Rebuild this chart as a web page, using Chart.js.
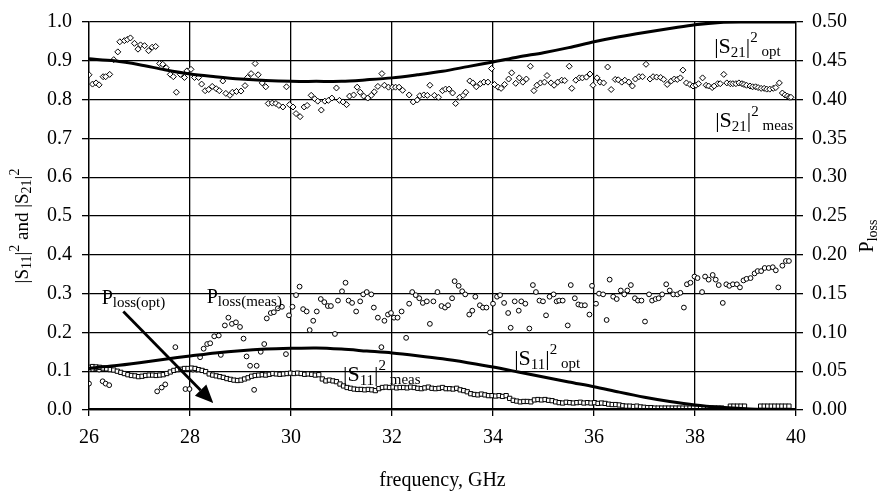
<!DOCTYPE html>
<html>
<head>
<meta charset="utf-8">
<script src="https://cdn.jsdelivr.net/npm/chart.js@4.4.0/dist/chart.umd.min.js"></script>
<style>
  html, body { margin: 0; padding: 0; background: #fff; }
</style>
</head>
<body>
<canvas id="chart" width="880" height="494"></canvas>
<script>
// [frequency GHz, value] pairs
const s21Opt = [[26,0.905],[26.5,0.9],[27,0.89],[27.5,0.877],[28,0.866],[28.5,0.859],[29,0.853],[29.5,0.849],[30,0.847],[30.5,0.847],[31,0.847],[31.5,0.851],[32,0.856],[32.5,0.864],[33,0.873],[33.5,0.885],[34,0.897],[34.5,0.91],[35,0.921],[35.5,0.934],[36,0.949],[36.5,0.962],[37,0.973],[37.5,0.983],[38,0.993],[38.5,0.999],[39,1.0],[39.5,1.0],[40,1.0]];

const s11Opt = [[26,0.108],[26.5,0.114],[27,0.122],[27.5,0.131],[28,0.139],[28.5,0.147],[29,0.153],[29.5,0.157],[30,0.159],[30.5,0.16],[31,0.157],[31.5,0.152],[32,0.147],[32.5,0.14],[33,0.132],[33.5,0.122],[34,0.111],[34.5,0.098],[35,0.085],[35.5,0.072],[36,0.06],[36.5,0.046],[37,0.033],[37.5,0.022],[38,0.013],[38.5,0.007],[39,0.003],[39.5,0.001],[40,0]];

const pLossOpt = [[26,0],[40,0]];

const s21Meas = [[26.0,0.864],[26.07,0.84],[26.14,0.843],[26.2,0.838],[26.28,0.859],[26.33,0.859],[26.41,0.865],[26.49,0.903],[26.57,0.923],[26.61,0.949],[26.7,0.952],[26.76,0.955],[26.82,0.959],[26.9,0.945],[26.97,0.93],[27.02,0.941],[27.1,0.939],[27.18,0.926],[27.25,0.935],[27.32,0.937],[27.4,0.893],[27.46,0.891],[27.53,0.882],[27.61,0.865],[27.67,0.859],[27.73,0.819],[27.81,0.865],[27.89,0.857],[27.94,0.874],[28.02,0.878],[28.09,0.857],[28.17,0.857],[28.23,0.84],[28.3,0.823],[28.37,0.826],[28.44,0.834],[28.52,0.828],[28.58,0.823],[28.65,0.848],[28.71,0.816],[28.79,0.811],[28.84,0.819],[28.92,0.821],[29.01,0.822],[29.09,0.836],[29.14,0.857],[29.21,0.867],[29.29,0.893],[29.35,0.864],[29.43,0.843],[29.5,0.833],[29.55,0.79],[29.63,0.791],[29.7,0.79],[29.76,0.785],[29.84,0.781],[29.91,0.833],[29.97,0.787],[30.04,0.781],[30.1,0.764],[30.18,0.756],[30.26,0.781],[30.32,0.785],[30.4,0.811],[30.47,0.802],[30.53,0.796],[30.6,0.773],[30.67,0.796],[30.74,0.798],[30.81,0.804],[30.9,0.83],[30.96,0.798],[31.03,0.794],[31.1,0.787],[31.16,0.809],[31.24,0.812],[31.31,0.832],[31.37,0.819],[31.44,0.809],[31.52,0.804],[31.59,0.811],[31.65,0.82],[31.72,0.834],[31.8,0.867],[31.85,0.837],[31.93,0.832],[32.01,0.832],[32.07,0.832],[32.14,0.832],[32.21,0.824],[32.34,0.812],[32.42,0.794],[32.5,0.799],[32.55,0.81],[32.63,0.812],[32.7,0.811],[32.75,0.837],[32.84,0.811],[32.92,0.806],[33.0,0.823],[33.06,0.827],[33.13,0.827],[33.2,0.817],[33.26,0.79],[33.34,0.806],[33.41,0.811],[33.46,0.819],[33.54,0.848],[33.6,0.843],[33.67,0.833],[33.75,0.841],[33.82,0.845],[33.9,0.845],[33.97,0.88],[34.03,0.839],[34.1,0.832],[34.16,0.829],[34.23,0.839],[34.31,0.853],[34.37,0.869],[34.45,0.842],[34.52,0.856],[34.59,0.845],[34.66,0.853],[34.74,0.886],[34.81,0.823],[34.87,0.837],[34.94,0.843],[35.02,0.845],[35.07,0.862],[35.15,0.843],[35.21,0.837],[35.28,0.845],[35.36,0.85],[35.42,0.849],[35.51,0.886],[35.56,0.829],[35.64,0.85],[35.71,0.856],[35.77,0.856],[35.85,0.858],[35.92,0.866],[35.98,0.837],[36.06,0.856],[36.12,0.845],[36.19,0.843],[36.27,0.884],[36.34,0.826],[36.42,0.852],[36.48,0.851],[36.55,0.845],[36.61,0.85],[36.69,0.845],[36.76,0.835],[36.82,0.853],[36.89,0.859],[36.96,0.859],[37.03,0.891],[37.11,0.853],[37.17,0.859],[37.24,0.858],[37.32,0.857],[37.38,0.852],[37.45,0.839],[37.53,0.848],[37.59,0.853],[37.65,0.852],[37.71,0.856],[37.76,0.876],[37.83,0.843],[37.9,0.839],[37.96,0.835],[38.02,0.837],[38.07,0.841],[38.15,0.856],[38.22,0.837],[38.27,0.835],[38.34,0.831],[38.38,0.835],[38.45,0.841],[38.5,0.841],[38.57,0.865],[38.63,0.843],[38.7,0.841],[38.75,0.841],[38.81,0.841],[38.87,0.843],[38.93,0.841],[38.97,0.839],[39.02,0.837],[39.09,0.835],[39.14,0.833],[39.2,0.833],[39.25,0.831],[39.31,0.829],[39.37,0.829],[39.42,0.827],[39.48,0.827],[39.55,0.829],[39.6,0.831],[39.67,0.843],[39.73,0.817],[39.78,0.812],[39.83,0.809],[39.87,0.806],[39.9,0.806]];

const s11Meas = [[26.0,0.11],[26.07,0.112],[26.14,0.111],[26.21,0.11],[26.28,0.108],[26.35,0.106],[26.42,0.104],[26.49,0.103],[26.56,0.1],[26.63,0.097],[26.7,0.094],[26.77,0.091],[26.84,0.089],[26.91,0.088],[26.98,0.086],[27.05,0.087],[27.12,0.089],[27.19,0.09],[27.26,0.09],[27.33,0.089],[27.4,0.09],[27.47,0.091],[27.54,0.094],[27.61,0.098],[27.68,0.102],[27.75,0.104],[27.82,0.105],[27.89,0.107],[27.96,0.107],[28.03,0.108],[28.1,0.107],[28.17,0.104],[28.24,0.102],[28.31,0.099],[28.38,0.093],[28.45,0.09],[28.52,0.088],[28.59,0.086],[28.66,0.084],[28.73,0.081],[28.8,0.079],[28.87,0.077],[28.94,0.076],[29.01,0.077],[29.08,0.08],[29.15,0.083],[29.22,0.087],[29.29,0.089],[29.36,0.09],[29.43,0.091],[29.5,0.09],[29.57,0.092],[29.64,0.094],[29.71,0.093],[29.78,0.092],[29.85,0.093],[29.92,0.094],[29.99,0.095],[30.06,0.094],[30.13,0.095],[30.2,0.094],[30.27,0.092],[30.34,0.093],[30.41,0.092],[30.48,0.09],[30.55,0.091],[30.62,0.08],[30.69,0.075],[30.76,0.077],[30.83,0.075],[30.9,0.073],[30.97,0.067],[31.04,0.062],[31.11,0.058],[31.18,0.056],[31.25,0.054],[31.32,0.053],[31.39,0.053],[31.46,0.052],[31.53,0.053],[31.6,0.052],[31.67,0.05],[31.74,0.055],[31.81,0.058],[31.88,0.059],[31.95,0.058],[32.02,0.059],[32.09,0.057],[32.16,0.058],[32.23,0.058],[32.3,0.057],[32.37,0.059],[32.44,0.058],[32.51,0.056],[32.58,0.055],[32.65,0.057],[32.72,0.059],[32.79,0.056],[32.86,0.055],[32.93,0.056],[33.0,0.058],[33.07,0.055],[33.14,0.055],[33.21,0.054],[33.28,0.056],[33.35,0.052],[33.42,0.05],[33.49,0.047],[33.56,0.042],[33.63,0.04],[33.7,0.039],[33.77,0.041],[33.84,0.039],[33.91,0.037],[33.98,0.037],[34.05,0.036],[34.12,0.037],[34.19,0.035],[34.26,0.037],[34.33,0.03],[34.4,0.025],[34.47,0.023],[34.54,0.021],[34.61,0.022],[34.68,0.022],[34.75,0.021],[34.82,0.026],[34.89,0.027],[34.96,0.026],[35.03,0.027],[35.1,0.025],[35.17,0.024],[35.24,0.021],[35.31,0.019],[35.38,0.018],[35.45,0.02],[35.52,0.019],[35.59,0.018],[35.66,0.019],[35.73,0.02],[35.8,0.018],[35.87,0.019],[35.94,0.018],[36.01,0.019],[36.08,0.017],[36.15,0.018],[36.22,0.017],[36.29,0.015],[36.36,0.014],[36.43,0.014],[36.5,0.013],[36.57,0.011],[36.64,0.01],[36.71,0.01],[36.78,0.009],[36.85,0.01],[36.92,0.008],[36.99,0.007],[37.06,0.006],[37.13,0.006],[37.2,0.005],[37.27,0.005],[37.34,0.005],[37.41,0.005],[37.48,0.005],[37.55,0.005],[37.62,0.005],[37.69,0.005],[37.76,0.005],[37.83,0.005],[37.9,0.005],[37.97,0.005],[38.04,0.005],[38.11,0.005],[38.18,0.005],[38.25,0.005],[38.32,0.005],[38.39,0.005],[38.46,0.005],[38.53,0.005],[38.7,0.01],[38.77,0.01],[38.84,0.01],[38.91,0.01],[38.98,0.01],[39.3,0.01],[39.37,0.01],[39.44,0.01],[39.51,0.01],[39.58,0.01],[39.65,0.01],[39.72,0.01],[39.79,0.01],[39.86,0.01]];

// right axis (Ploss)
const pLossMeas = [[26.0,0.034],[26.07,0.053],[26.14,0.054],[26.2,0.052],[26.27,0.037],[26.33,0.034],[26.4,0.032],[27.35,0.024],[27.44,0.029],[27.51,0.033],[27.71,0.081],[27.91,0.027],[27.99,0.027],[28.06,0.052],[28.13,0.052],[28.2,0.068],[28.27,0.079],[28.34,0.085],[28.4,0.086],[28.48,0.095],[28.57,0.096],[28.61,0.071],[28.69,0.109],[28.76,0.119],[28.83,0.111],[28.91,0.113],[28.99,0.107],[29.06,0.092],[29.12,0.069],[29.19,0.057],[29.27,0.026],[29.32,0.057],[29.4,0.075],[29.47,0.085],[29.52,0.118],[29.6,0.125],[29.66,0.126],[29.74,0.131],[29.82,0.133],[29.9,0.072],[29.96,0.122],[30.03,0.133],[30.1,0.148],[30.17,0.159],[30.24,0.13],[30.31,0.127],[30.37,0.103],[30.44,0.115],[30.51,0.127],[30.59,0.143],[30.66,0.139],[30.73,0.134],[30.79,0.134],[30.87,0.098],[30.93,0.141],[31.01,0.153],[31.08,0.164],[31.14,0.141],[31.21,0.138],[31.29,0.127],[31.37,0.14],[31.43,0.149],[31.5,0.152],[31.59,0.149],[31.64,0.132],[31.72,0.119],[31.79,0.081],[31.85,0.115],[31.92,0.123],[31.98,0.125],[32.04,0.119],[32.11,0.119],[32.19,0.127],[32.28,0.093],[32.34,0.137],[32.4,0.152],[32.47,0.148],[32.54,0.144],[32.61,0.138],[32.69,0.14],[32.75,0.111],[32.82,0.14],[32.9,0.152],[32.98,0.134],[33.05,0.132],[33.11,0.135],[33.19,0.144],[33.24,0.166],[33.32,0.16],[33.39,0.153],[33.45,0.149],[33.53,0.123],[33.59,0.128],[33.65,0.146],[33.74,0.135],[33.8,0.132],[33.87,0.132],[33.94,0.1],[34.0,0.137],[34.08,0.146],[34.14,0.148],[34.22,0.138],[34.3,0.125],[34.35,0.106],[34.43,0.14],[34.51,0.128],[34.56,0.14],[34.64,0.137],[34.72,0.105],[34.79,0.161],[34.85,0.152],[34.92,0.141],[34.99,0.14],[35.05,0.122],[35.12,0.146],[35.2,0.149],[35.26,0.14],[35.31,0.141],[35.38,0.141],[35.48,0.109],[35.54,0.161],[35.62,0.144],[35.69,0.136],[35.75,0.135],[35.82,0.135],[35.91,0.123],[35.96,0.16],[36.04,0.137],[36.1,0.15],[36.18,0.149],[36.25,0.116],[36.31,0.168],[36.38,0.146],[36.45,0.143],[36.53,0.154],[36.6,0.149],[36.66,0.154],[36.73,0.161],[36.81,0.144],[36.87,0.141],[36.94,0.141],[37.01,0.114],[37.09,0.149],[37.15,0.141],[37.22,0.143],[37.28,0.144],[37.35,0.149],[37.43,0.162],[37.5,0.154],[37.57,0.149],[37.65,0.149],[37.71,0.151],[37.78,0.132],[37.84,0.162],[37.91,0.164],[37.99,0.172],[38.05,0.17],[38.14,0.152],[38.2,0.172],[38.27,0.168],[38.35,0.174],[38.41,0.168],[38.47,0.161],[38.55,0.138],[38.62,0.162],[38.68,0.16],[38.75,0.162],[38.83,0.162],[38.89,0.158],[38.96,0.167],[39.02,0.169],[39.1,0.17],[39.18,0.176],[39.24,0.179],[39.31,0.179],[39.38,0.183],[39.46,0.183],[39.54,0.184],[39.6,0.18],[39.65,0.158],[39.73,0.186],[39.8,0.192],[39.86,0.192]];

const FONT = '"Liberation Serif", "Times New Roman", serif';
const toXY = arr => arr.map(p => ({x: p[0], y: p[1]}));

// rich text: [text, size, dy]
function richWidth(ctx, parts) {
    let w = 0;
    for (const [t, s] of parts) {
        ctx.font = s + 'px ' + FONT;
        w += ctx.measureText(t).width;
    }
    return w;
}
function richText(ctx, parts, x, y) {
    let cx = x;
    for (const [t, s, dy] of parts) {
        ctx.font = s + 'px ' + FONT;
        ctx.fillText(t, cx, y + dy);
        cx += ctx.measureText(t).width;
    }
}

const sLabel = (idx, sub) => [['|S', 22, 0], [idx, 15, 4], ['|', 22, 0], ['2', 15, -11], [' ' + sub, 15, 3]];

const labels = [
    {f: 38.38, v: 0.921, parts: sLabel('21', 'opt')},
    {f: 38.40, v: 0.729, parts: sLabel('21', 'meas')},
    {f: 34.42, v: 0.115, parts: sLabel('11', 'opt')},
    {f: 31.03, v: 0.075, parts: sLabel('11', 'meas')},
    {f: 26.25, v: 0.272, parts: [['P', 20, 0], ['loss(opt)', 15, 3]]},
    {f: 28.33, v: 0.275, parts: [['P', 20, 0], ['loss(meas)', 15, 3]]}
];

const decor = {
    id: 'decor',
    afterDatasetsDraw(chart) {
        const ctx = chart.ctx;
        const xs = chart.scales.x, ys = chart.scales.y;
        ctx.save();
        ctx.fillStyle = '#000';
        ctx.textAlign = 'left';
        ctx.textBaseline = 'alphabetic';
        labels.forEach(l => {
            richText(ctx, l.parts, xs.getPixelForValue(l.f), ys.getPixelForValue(l.v));
        });

        // arrow Ploss(opt)
        const x1 = xs.getPixelForValue(26.68), y1 = ys.getPixelForValue(0.254);
        const x2 = xs.getPixelForValue(28.46), y2 = ys.getPixelForValue(0.018);
        const ang = Math.atan2(y2 - y1, x2 - x1);
        const hl = 18, hw = 8;
        ctx.strokeStyle = '#000';
        ctx.lineWidth = 2.8;
        ctx.beginPath();
        ctx.moveTo(x1, y1);
        ctx.lineTo(x2 - hl * Math.cos(ang), y2 - hl * Math.sin(ang));
        ctx.stroke();
        ctx.beginPath();
        ctx.moveTo(x2, y2);
        ctx.lineTo(x2 - hl * Math.cos(ang) + hw * Math.sin(ang), y2 - hl * Math.sin(ang) - hw * Math.cos(ang));
        ctx.lineTo(x2 - hl * Math.cos(ang) - hw * Math.sin(ang), y2 - hl * Math.sin(ang) + hw * Math.cos(ang));
        ctx.closePath();
        ctx.fill();

        // axis titles
        const ca = chart.chartArea;
        const cy = (ca.top + ca.bottom) / 2;
        const left = [['|S', 19, 0], ['11', 14, 3], ['|', 19, 0], ['2', 14, -9], [' and ', 19, 0],
                      ['|S', 19, 0], ['21', 14, 3], ['|', 19, 0], ['2', 14, -9]];
        ctx.save();
        ctx.translate(28, cy + 10);
        ctx.rotate(-Math.PI / 2);
        richText(ctx, left, -richWidth(ctx, left) / 2, 0);
        ctx.restore();

        const right = [['P', 20, 0], ['loss', 14, 4]];
        ctx.save();
        ctx.translate(873, cy + 20);
        ctx.rotate(-Math.PI / 2);
        richText(ctx, right, -richWidth(ctx, right) / 2, 0);
        ctx.restore();

        ctx.font = '20px ' + FONT;
        ctx.textAlign = 'center';
        ctx.fillText('frequency, GHz', (ca.left + ca.right) / 2, 486);
        ctx.restore();
    }
};

const tickFont = {family: FONT, size: 20};

new Chart(document.getElementById('chart'), {
    type: 'scatter',
    data: {
        datasets: [
            {data: toXY(pLossOpt), yAxisID: 'y2', showLine: true, borderColor: '#000', borderWidth: 4, pointRadius: 0},
            {data: toXY(s21Opt), yAxisID: 'y', showLine: true, borderColor: '#000', borderWidth: 3, pointRadius: 0, tension: 0.3},
            {data: toXY(s11Opt), yAxisID: 'y', showLine: true, borderColor: '#000', borderWidth: 3, pointRadius: 0, tension: 0.3},
            {data: toXY(s21Meas), yAxisID: 'y', pointStyle: 'rectRot', pointRadius: 3, borderWidth: 1, borderColor: '#000', backgroundColor: '#fff'},
            {data: toXY(s11Meas), yAxisID: 'y', pointStyle: 'rect', pointRadius: 3, borderWidth: 1, borderColor: '#000', backgroundColor: '#fff'},
            {data: toXY(pLossMeas), yAxisID: 'y2', pointStyle: 'circle', pointRadius: 2.4, borderWidth: 1, borderColor: '#000', backgroundColor: '#fff'}
        ]
    },
    options: {
        responsive: false,
        animation: false,
        layout: {padding: {top: 15, left: 0, right: 0, bottom: 0}},
        plugins: {legend: {display: false}, tooltip: {enabled: false}},
        scales: {
            x: {
                type: 'linear', min: 26, max: 40,
                ticks: {stepSize: 2, color: '#000', font: tickFont, padding: 10, maxRotation: 0},
                grid: {color: '#000', lineWidth: 1.3, tickLength: 6},
                border: {color: '#000', width: 1.3},
                afterFit: s => { s.height = 84; }
            },
            y: {
                position: 'left', min: 0, max: 1,
                ticks: {stepSize: 0.1, color: '#000', font: tickFont, padding: 10, callback: v => v.toFixed(1)},
                grid: {color: '#000', lineWidth: 1.3, tickLength: 7},
                border: {color: '#000', width: 1.3},
                afterFit: s => { s.width = 89; }
            },
            y2: {
                position: 'right', min: 0, max: 0.5,
                ticks: {stepSize: 0.05, color: '#000', font: tickFont, padding: 9, callback: v => v.toFixed(2)},
                grid: {drawOnChartArea: false, color: '#000', lineWidth: 1.3, tickLength: 7},
                border: {color: '#000', width: 1.3},
                afterFit: s => { s.width = 84; }
            }
        }
    },
    plugins: [decor]
});
</script>
</body>
</html>
